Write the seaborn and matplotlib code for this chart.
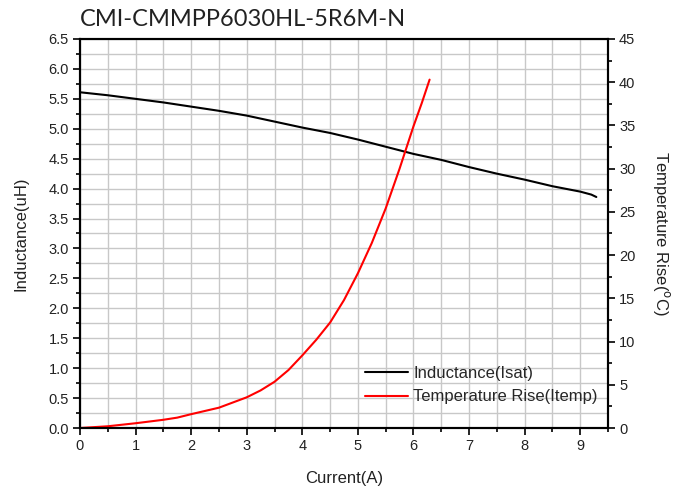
import matplotlib
matplotlib.use("Agg")
import matplotlib.pyplot as plt
import seaborn as sns
import pandas as pd
from matplotlib.ticker import MultipleLocator, FormatStrFormatter
from matplotlib.lines import Line2D

sns.set_theme(style="white")
plt.rcParams['font.family'] = ['Liberation Sans', 'DejaVu Sans']

title = "CMI-CMMPP6030HL-5R6M-N"

ind_current = [0, 0.5, 1.0, 1.5, 2.0, 2.5, 3.0, 3.5, 4.0, 4.5, 5.0, 5.5, 6.0,
               6.5, 7.0, 7.5, 8.0, 8.5, 9.0, 9.2, 9.29]
inductance = [5.61, 5.56, 5.50, 5.44, 5.37, 5.30, 5.22, 5.12, 5.02, 4.93, 4.82,
              4.70, 4.58, 4.48, 4.36, 4.25, 4.15, 4.04, 3.95, 3.90, 3.86]

tmp_current = [0, 0.5, 1.0, 1.5, 1.75, 2.0, 2.5, 3.0, 3.25, 3.5, 3.75, 4.0, 4.25,
               4.5, 4.75, 5.0, 5.25, 5.5, 5.75, 6.0, 6.15, 6.29]
temp_rise = [0, 0.2, 0.55, 0.95, 1.2, 1.6, 2.35, 3.55, 4.35, 5.35, 6.7, 8.4, 10.2,
             12.2, 14.8, 17.9, 21.4, 25.4, 30.0, 34.9, 37.6, 40.3]

df_l = pd.DataFrame({"Current": ind_current, "L": inductance})
df_t = pd.DataFrame({"Current": tmp_current, "T": temp_rise})

fig = plt.figure(figsize=(6.86, 4.91), dpi=100)
ax = fig.add_axes([80/686, 1-428/491, (608-80)/686, (428-39)/491])
ax2 = ax.twinx()

sns.lineplot(data=df_l, x="Current", y="L", ax=ax, color="black", lw=1.5, legend=False)
sns.lineplot(data=df_t, x="Current", y="T", ax=ax2, color="#ff0000", lw=1.5, legend=False)

ax.set_xlim(0, 9.5)
ax.set_ylim(0, 6.5)
ax2.set_ylim(0, 45)

ax.xaxis.set_major_locator(MultipleLocator(1))
ax.xaxis.set_minor_locator(MultipleLocator(0.5))
ax.yaxis.set_major_locator(MultipleLocator(0.5))
ax.yaxis.set_minor_locator(MultipleLocator(0.25))
ax2.yaxis.set_major_locator(MultipleLocator(5))
ax2.yaxis.set_minor_locator(MultipleLocator(2.5))
ax.yaxis.set_major_formatter(FormatStrFormatter('%.1f'))

ax.grid(which="both", color="#c8c8c8", lw=1.0)
ax.set_axisbelow(True)

for a in (ax, ax2):
    for s in a.spines.values():
        s.set_color("black")
        s.set_linewidth(1.5)

ax.tick_params(axis="both", which="major", direction="out", length=5, width=1.2,
               labelsize=10.5, color="black", labelcolor="#222222",
               bottom=True, left=True, top=False, right=False, pad=3)
ax.tick_params(axis="both", which="minor", direction="out", length=3, width=1.2,
               color="black", bottom=True, left=True, top=False, right=False)
ax2.tick_params(axis="y", which="major", direction="out", length=5, width=1.2,
                labelsize=10.5, color="black", labelcolor="#222222", right=True, pad=3)
ax2.tick_params(axis="y", which="minor", direction="out", length=3, width=1.2,
                color="black", right=True)

ax.set_xlabel("Current(A)", fontsize=12, color="#222222", labelpad=13)
ax.set_ylabel("Inductance(uH)", fontsize=12, color="#222222", labelpad=14)
ax2.set_ylabel(r"Temperature Rise($^{\rm o}$C)", fontsize=12, color="#222222",
               rotation=270, labelpad=26)

fig.text(80/686, 1-20/491, title, fontsize=17, color="#222222",
         ha="left", va="center", family=["Lato", "DejaVu Sans"])

handles = [Line2D([], [], color="black", lw=1.5),
           Line2D([], [], color="#ff0000", lw=1.5)]
ax2.legend(handles, ["Inductance(Isat)", "Temperature Rise(Itemp)"],
           loc="lower right", bbox_to_anchor=(1.0, 0.035), frameon=False,
           fontsize=12, handlelength=2.6, handletextpad=0.3, labelspacing=0.5,
           borderaxespad=0.2)

fig.savefig("out.png", dpi=100)
